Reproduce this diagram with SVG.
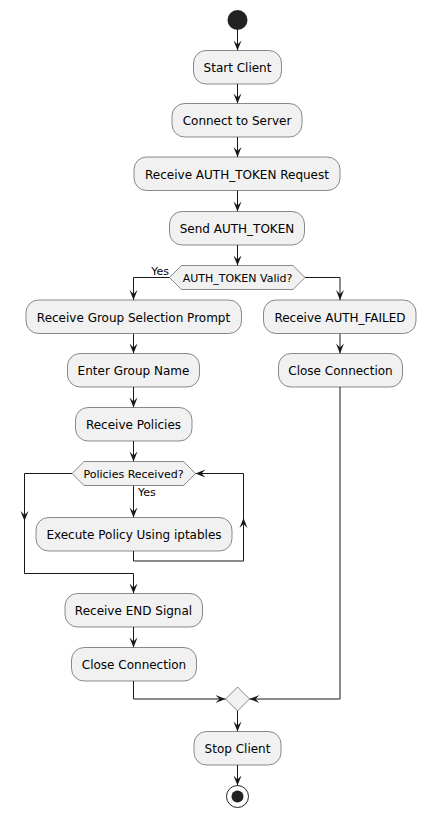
<svg xmlns="http://www.w3.org/2000/svg" width="426" height="817" viewBox="0 0 426 817">
<defs>
<style>
.box{fill:#F1F1F1;stroke:#181818;stroke-width:0.5}
.t{font-family:"DejaVu Sans",sans-serif;font-size:12px;fill:#000;text-anchor:middle}
.s{font-family:"DejaVu Sans",sans-serif;font-size:11px;fill:#000}
.c{fill:none;stroke:#181818;stroke-width:1}
</style>
<marker id="ah" markerUnits="userSpaceOnUse" markerWidth="10" markerHeight="8" refX="10" refY="4" orient="auto" overflow="visible">
<path d="M0,0 L10,4 L0,8 L4,4 Z" fill="#181818"/>
</marker>
</defs>
<rect width="426" height="817" fill="#FFFFFF"/>
<g id="connectors">
<path class="c" d="M237.5,30 L237.5,50.5" marker-end="url(#ah)"/>
<path class="c" d="M237.5,84 L237.5,103.5" marker-end="url(#ah)"/>
<path class="c" d="M237.5,137 L237.5,157" marker-end="url(#ah)"/>
<path class="c" d="M237.5,190.5 L237.5,211.5" marker-end="url(#ah)"/>
<path class="c" d="M237.5,245 L237.5,265.5" marker-end="url(#ah)"/>
<path class="c" d="M169.5,277.5 L133.5,277.5 L133.5,300" marker-end="url(#ah)"/>
<path class="c" d="M305,277.5 L340,277.5 L340,300" marker-end="url(#ah)"/>
<path class="c" d="M340,333.5 L340,353.5" marker-end="url(#ah)"/>
<path class="c" d="M133.5,333.5 L133.5,353.5" marker-end="url(#ah)"/>
<path class="c" d="M133.5,387 L133.5,407.5" marker-end="url(#ah)"/>
<path class="c" d="M133.5,441 L133.5,461.5" marker-end="url(#ah)"/>
<path class="c" d="M133.5,485.5 L133.5,517.5" marker-end="url(#ah)"/>
<path class="c" d="M133.5,551 L133.5,561 L243.5,561 L243.5,518" marker-end="url(#ah)"/>
<path class="c" d="M243.5,518 L243.5,473.5 L195.5,473.5" marker-end="url(#ah)"/>
<path class="c" d="M72,473.5 L24.5,473.5 L24.5,521" marker-end="url(#ah)"/>
<path class="c" d="M24.5,521 L24.5,573.5 L133.5,573.5 L133.5,593.5" marker-end="url(#ah)"/>
<path class="c" d="M133.5,627 L133.5,647.5" marker-end="url(#ah)"/>
<path class="c" d="M133.5,681 L133.5,699 L225.5,699" marker-end="url(#ah)"/>
<path class="c" d="M340,387 L340,699 L249.5,699" marker-end="url(#ah)"/>
<path class="c" d="M237.5,711 L237.5,731.5" marker-end="url(#ah)"/>
<path class="c" d="M237.5,765 L237.5,785.5" marker-end="url(#ah)"/>
<text class="s" x="169" y="274.5" text-anchor="end">Yes</text>
<text class="s" x="138" y="496">Yes</text>
</g>
<g id="start"><circle cx="237.5" cy="20" r="10" fill="#222222"/></g>
<g id="n1"><rect class="box" x="193.5" y="50.5" width="88" height="33.5" rx="12.5"/><text class="t" x="237.5" y="72">Start Client</text></g>
<g id="n2"><rect class="box" x="172" y="103.5" width="130" height="33.5" rx="12.5"/><text class="t" x="237" y="125">Connect to Server</text></g>
<g id="n3"><rect class="box" x="134" y="157" width="206" height="33.5" rx="12.5"/><text class="t" x="237" y="178.5">Receive AUTH_TOKEN Request</text></g>
<g id="n4"><rect class="box" x="169.5" y="211.5" width="135" height="33.5" rx="12.5"/><text class="t" x="237" y="233">Send AUTH_TOKEN</text></g>
<g id="d1"><polygon class="box" points="169.5,277.5 181.5,265.5 293,265.5 305,277.5 293,289.5 181.5,289.5"/><text class="s" x="237.5" y="281.5" text-anchor="middle">AUTH_TOKEN Valid?</text></g>
<g id="n5"><rect class="box" x="26" y="300" width="215.5" height="33.5" rx="12.5"/><text class="t" x="133.5" y="321.5">Receive Group Selection Prompt</text></g>
<g id="n6"><rect class="box" x="67.5" y="353.5" width="132" height="33.5" rx="12.5"/><text class="t" x="133.5" y="375">Enter Group Name</text></g>
<g id="n7"><rect class="box" x="75.5" y="407.5" width="116.5" height="33.5" rx="12.5"/><text class="t" x="133.5" y="429">Receive Policies</text></g>
<g id="d2"><polygon class="box" points="72,473.5 84,461.5 183.5,461.5 195.5,473.5 183.5,485.5 84,485.5"/><text class="s" x="133.5" y="477.5" text-anchor="middle">Policies Received?</text></g>
<g id="n8"><rect class="box" x="36" y="517.5" width="196" height="33.5" rx="12.5"/><text class="t" x="134" y="539">Execute Policy Using iptables</text></g>
<g id="n9"><rect class="box" x="65" y="593.5" width="137.5" height="33.5" rx="12.5"/><text class="t" x="133.5" y="615">Receive END Signal</text></g>
<g id="n10"><rect class="box" x="71.5" y="647.5" width="125" height="33.5" rx="12.5"/><text class="t" x="134" y="669">Close Connection</text></g>
<g id="n11"><rect class="box" x="263.5" y="300" width="152.5" height="33.5" rx="12.5"/><text class="t" x="340" y="321.5">Receive AUTH_FAILED</text></g>
<g id="n12"><rect class="box" x="278.5" y="353.5" width="124" height="33.5" rx="12.5"/><text class="t" x="340.5" y="375">Close Connection</text></g>
<g id="merge"><polygon class="box" points="225.5,699 237.5,687 249.5,699 237.5,711"/></g>
<g id="n13"><rect class="box" x="194" y="731.5" width="87" height="33.5" rx="12.5"/><text class="t" x="237.5" y="753">Stop Client</text></g>
<g id="end"><circle cx="237.5" cy="796.5" r="11" fill="none" stroke="#222222" stroke-width="1"/><circle cx="237.5" cy="796.5" r="6" fill="#222222"/></g>
</svg>
